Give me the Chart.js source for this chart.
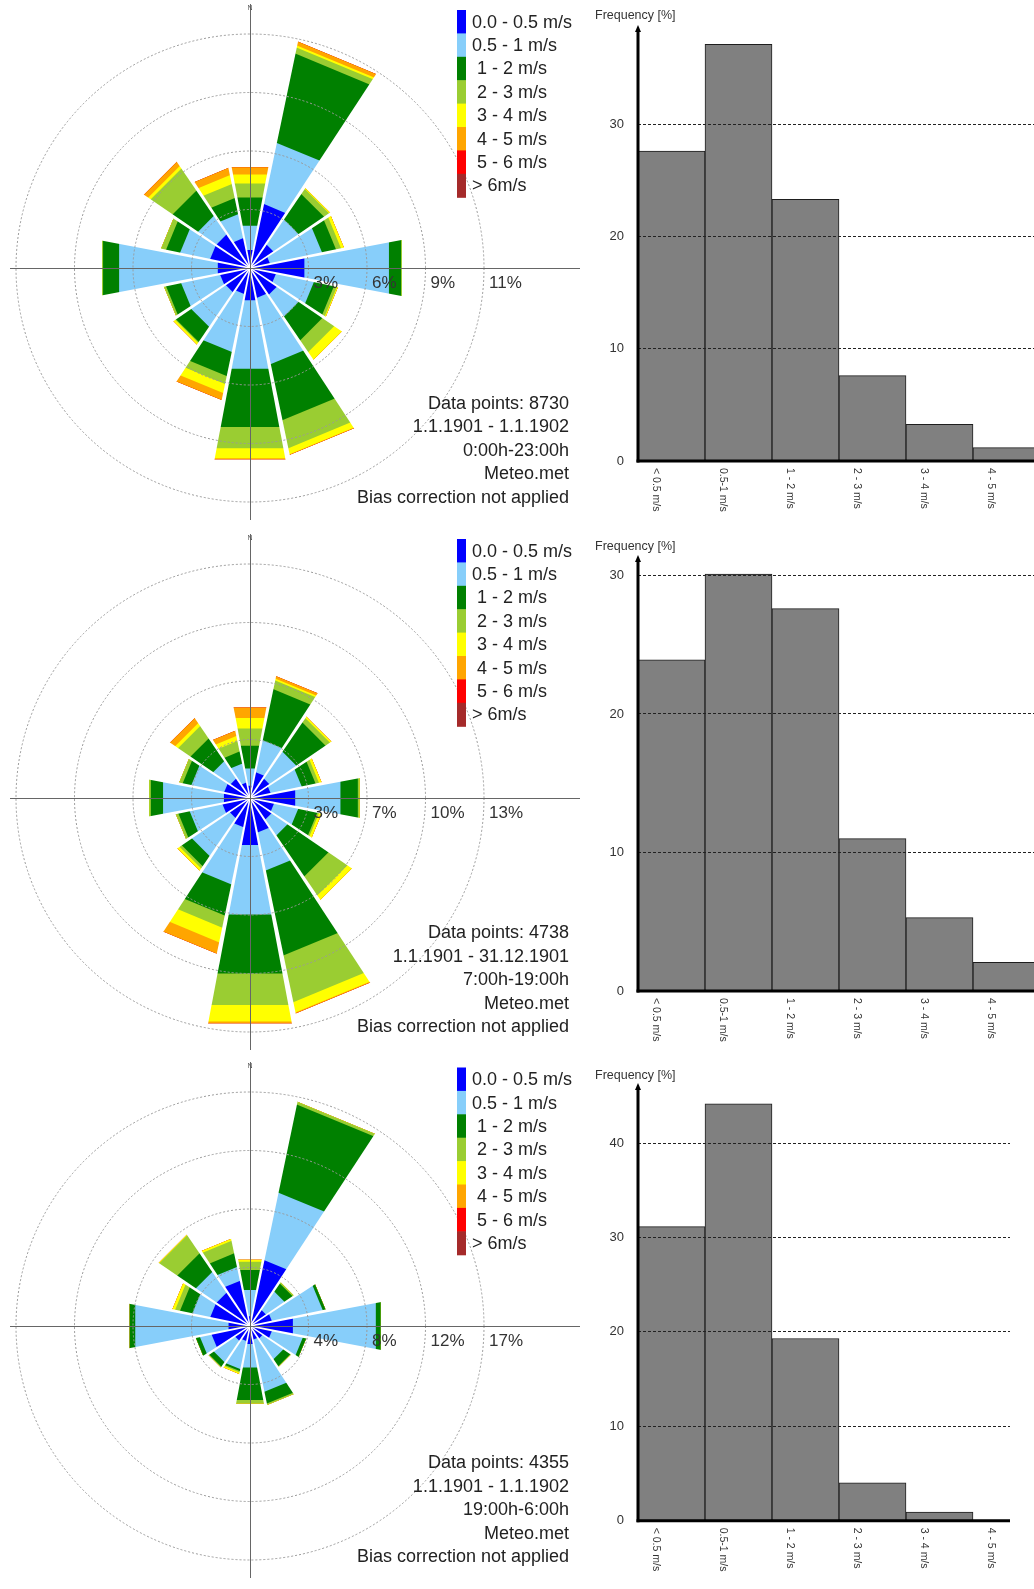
<!DOCTYPE html>
<html>
<head>
<meta charset="utf-8">
<script src="https://cdn.jsdelivr.net/npm/chart.js@4"></script>
<style>
    html, body { margin: 0; padding: 0; background: #fff; }
    body { width: 1034px; height: 1589px; overflow: hidden; position: relative; }
    .box { position: absolute; overflow: hidden; }
    canvas { display: block; }
</style>
</head>
<body>
<div class="box" style="left:0;top:0;width:590px;height:527px"><canvas id="rose1" width="590" height="527"></canvas></div>
<div class="box" style="left:0;top:527px;width:590px;height:527px"><canvas id="rose2" width="590" height="527"></canvas></div>
<div class="box" style="left:0;top:1054px;width:590px;height:535px"><canvas id="rose3" width="590" height="535"></canvas></div>
<div class="box" style="left:580px;top:0;width:454px;height:527px"><canvas id="hist1" width="600" height="527"></canvas></div>
<div class="box" style="left:580px;top:527px;width:454px;height:527px"><canvas id="hist2" width="600" height="527"></canvas></div>
<div class="box" style="left:580px;top:1054px;width:430px;height:535px"><canvas id="hist3" width="600" height="535"></canvas></div>

<script>
// wind direction sectors, clockwise from north
const directions = ['N', 'NNE', 'NE', 'ENE', 'E', 'ESE', 'SE', 'SSE', 'S', 'SSW', 'SW', 'WSW', 'W', 'WNW', 'NW', 'NNW'];

// speed classes (legend text) and their colours
const speedClasses = ['0.0 - 0.5 m/s', '0.5 - 1 m/s', ' 1 - 2 m/s', ' 2 - 3 m/s', ' 3 - 4 m/s', ' 4 - 5 m/s', ' 5 - 6 m/s', '> 6m/s'];
const classColors = ['#0000ff', '#87cefa', '#008000', '#9acd32', '#ffff00', '#ffa500', '#ff0000', '#a52a2a'];

// frequency [%] - one row per direction, one column per speed class
const roseAll = [
    [0.9, 1.2, 1.4, 0.7, 0.45, 0.35, 0, 0],
    [3.2, 3.05, 4.45, 0.3, 0.1, 0.2, 0, 0],
    [1.4, 1.5, 1.5, 0.3, 0.05, 0, 0, 0],
    [1.0, 2.6, 0.7, 0.25, 0.15, 0, 0, 0],
    [2.7, 4.2, 0.6, 0.05, 0, 0, 0, 0],
    [1.3, 1.9, 1.0, 0.15, 0.05, 0, 0, 0],
    [1.6, 1.3, 1.4, 0.7, 0.45, 0, 0, 0],
    [1.5, 3.3, 2.8, 1.4, 0.3, 0.03, 0, 0],
    [1.6, 3.4, 2.9, 1.05, 0.5, 0.05, 0, 0],
    [1.3, 2.9, 1.2, 0.4, 0.45, 0.35, 0, 0],
    [1.45, 2.05, 0.9, 0.05, 0.1, 0, 0, 0],
    [1.5, 1.95, 0.75, 0.1, 0, 0, 0, 0],
    [1.6, 4.9, 0.8, 0.05, 0, 0, 0, 0],
    [2.0, 1.5, 0.7, 0.25, 0, 0, 0, 0],
    [2.0, 1.1, 1.5, 1.3, 0.15, 0.25, 0, 0],
    [1.5, 1.2, 0.8, 0.7, 0.45, 0.35, 0, 0]
];
const roseDay = [
    [0.7, 1.0, 1.3, 1.0, 0.6, 0.6, 0, 0],
    [1.5, 1.85, 2.95, 0.5, 0.1, 0.15, 0, 0],
    [1.35, 1.85, 2.0, 0.3, 0.1, 0, 0, 0],
    [1.2, 1.8, 0.8, 0.2, 0.15, 0, 0, 0],
    [2.6, 2.6, 1.0, 0.1, 0, 0, 0, 0],
    [1.4, 1.4, 1.1, 0.1, 0.15, 0, 0, 0],
    [1.5, 1.1, 2.8, 1.3, 0.3, 0, 0, 0],
    [2.0, 2.2, 4.9, 2.7, 0.6, 0.05, 0, 0],
    [2.7, 4.0, 3.4, 1.8, 0.95, 0.1, 0, 0],
    [1.7, 3.3, 1.8, 0.7, 0.85, 0.65, 0, 0],
    [1.4, 2.6, 0.7, 0.15, 0.15, 0, 0, 0],
    [1.6, 1.9, 0.65, 0.15, 0, 0, 0, 0],
    [1.5, 3.5, 0.7, 0.1, 0, 0, 0, 0],
    [1.5, 1.9, 0.5, 0.2, 0, 0, 0, 0],
    [1.35, 1.2, 1.55, 0.85, 0.2, 0.35, 0, 0],
    [0.9, 1.1, 0.7, 0.6, 0.3, 0.3, 0, 0]
];
const roseNight = [
    [0.7, 1.9, 1.45, 0.6, 0.15, 0, 0, 0],
    [4.8, 4.9, 6.4, 0.2, 0, 0, 0, 0],
    [1.4, 1.6, 0.7, 0.1, 0, 0, 0, 0],
    [1.6, 3.7, 0.2, 0, 0, 0, 0, 0],
    [3.1, 6.0, 0.35, 0, 0, 0, 0, 0],
    [1.6, 2.25, 0.25, 0, 0, 0, 0, 0],
    [1.1, 1.8, 0.6, 0.05, 0, 0, 0, 0],
    [1.0, 3.8, 0.85, 0.1, 0, 0, 0, 0],
    [1.3, 1.7, 2.35, 0.25, 0, 0, 0, 0],
    [1.1, 2.05, 0.15, 0.1, 0.1, 0, 0, 0],
    [1.3, 1.85, 0.4, 0.05, 0, 0, 0, 0],
    [2.8, 0.85, 0.3, 0, 0, 0, 0, 0],
    [1.55, 6.75, 0.4, 0, 0, 0, 0, 0],
    [2.9, 1.3, 0.9, 0.35, 0.2, 0, 0, 0],
    [2.9, 1.8, 1.6, 1.55, 0.05, 0, 0, 0],
    [3.3, 1.0, 1.0, 0.9, 0.15, 0, 0, 0]
];

// outer ring value [%] of each rose and the ring labels
const roseMax = [11.4, 13.2, 16.6];
const ringsAll = ['3%', '6%', '9%', '11%'];
const ringsDay = ['3%', '7%', '10%', '13%'];
const ringsNight = ['4%', '8%', '12%', '17%'];

// info text under each rose
const infoAll = ['Data points: 8730', '1.1.1901 - 1.1.1902', '0:00h-23:00h', 'Meteo.met', 'Bias correction not applied'];
const infoDay = ['Data points: 4738', '1.1.1901 - 31.12.1901', '7:00h-19:00h', 'Meteo.met', 'Bias correction not applied'];
const infoNight = ['Data points: 4355', '1.1.1901 - 1.1.1902', '19:00h-6:00h', 'Meteo.met', 'Bias correction not applied'];

// speed histograms, frequency [%]
const histTitle = 'Frequency [%]';
const histLabels = ['< 0.5 m/s', '0.5-1 m/s', '1 - 2 m/s', '2 - 3 m/s', '3 - 4 m/s', '4 - 5 m/s', '5 - 6 m/s', '> 6 m/s'];
const histAll = [27.6, 37.1, 23.3, 7.6, 3.26, 1.19, 0, 0];
const histDay = [23.9, 30.1, 27.6, 11.0, 5.3, 2.07, 0, 0];
const histNight = [31.15, 44.15, 19.3, 4.0, 0.9, 0, 0, 0];

const FONT = '"Liberation Sans", Arial, sans-serif';
Chart.defaults.font.family = FONT;

const ROSE_R = 234;   // radius of the outer ring in px
const ROSE_X = 250;   // x of the rose centre

// ── wind rose ──
function makeRose(id, rows, maxPct, ringLabels, info, centerY, legendTop, infoTop) {
    const canvas = document.getElementById(id);
    const W = canvas.width, H = canvas.height;

    // running sums, so every class is an outer band of its sector
    const cum = rows.map(r => { let s = 0; return r.map(v => (s += v)); });
    const totals = cum.map(c => c[c.length - 1]);

    const datasets = speedClasses.map((name, k) => ({
        label: name,
        data: cum.map(c => +c[k].toFixed(3)),
        backgroundColor: classColors[k],
        borderWidth: 0
    }));

    const roseExtras = {
        id: 'roseExtras',
        // white gaps between the sectors
        afterDatasetsDraw(chart) {
            const sc = chart.scales.r;
            const ctx = chart.ctx;
            const cx = sc.xCenter, cy = sc.yCenter;
            ctx.save();
            ctx.fillStyle = '#fff';
            for (let k = 0; k < 16; k++) {
                const a = (11.25 + 22.5 * k - 90) * Math.PI / 180;
                const R = sc.getDistanceFromCenterForValue(Math.max(totals[k], totals[(k + 1) % 16])) + 3;
                const h0 = 0.7, h1 = 0.7 + R * 0.0095;
                const c = Math.cos(a), s = Math.sin(a);
                ctx.beginPath();
                ctx.moveTo(cx - h0 * s, cy + h0 * c);
                ctx.lineTo(cx + R * c - h1 * s, cy + R * s + h1 * c);
                ctx.lineTo(cx + R * c + h1 * s, cy + R * s - h1 * c);
                ctx.lineTo(cx + h0 * s, cy - h0 * c);
                ctx.closePath();
                ctx.fill();
            }
            ctx.restore();
        },
        afterDraw(chart) {
            const sc = chart.scales.r;
            const ctx = chart.ctx;
            const cx = sc.xCenter, cy = sc.yCenter;
            ctx.save();

            // cross axes
            ctx.strokeStyle = '#666';
            ctx.lineWidth = 1;
            ctx.beginPath();
            ctx.moveTo(10, cy + 0.5);
            ctx.lineTo(580, cy + 0.5);
            ctx.moveTo(cx + 0.5, cy - 264);
            ctx.lineTo(cx + 0.5, cy + 252);
            ctx.stroke();

            ctx.fillStyle = '#555';
            ctx.font = '7px ' + FONT;
            ctx.textAlign = 'center';
            ctx.textBaseline = 'middle';
            ctx.fillText('N', cx, cy - 260);

            // ring labels along the east axis
            ctx.fillStyle = '#333';
            ctx.font = '17px ' + FONT;
            ctx.textAlign = 'left';
            ctx.textBaseline = 'alphabetic';
            ringLabels.forEach((lab, i) => {
                const r = sc.getDistanceFromCenterForValue(maxPct * (i + 1) / 4);
                ctx.fillText(lab, cx + r + 5, cy + 20);
            });

            // legend
            ctx.font = '18px ' + FONT;
            ctx.textBaseline = 'middle';
            const rowH = 23.4;
            speedClasses.forEach((name, k) => {
                ctx.fillStyle = classColors[k];
                ctx.fillRect(457, legendTop + rowH * k, 9, rowH + 0.6);
                ctx.fillStyle = '#222';
                ctx.fillText(name, 472, legendTop + rowH * k + rowH / 2 + 1);
            });

            // info text
            ctx.textAlign = 'right';
            info.forEach((line, i) => {
                ctx.fillText(line, 569, infoTop + 23.5 * i);
            });
            ctx.restore();
        }
    };

    new Chart(canvas, {
        type: 'polarArea',
        data: { labels: directions, datasets: datasets },
        options: {
            responsive: false,
            animation: false,
            layout: {
                padding: {
                    left: ROSE_X - ROSE_R,
                    top: centerY - ROSE_R,
                    right: W - ROSE_X - ROSE_R,
                    bottom: H - centerY - ROSE_R
                }
            },
            plugins: { legend: { display: false }, tooltip: { enabled: false } },
            elements: { arc: { circular: false, borderWidth: 0 } },
            scales: {
                r: {
                    min: 0,
                    max: maxPct,
                    startAngle: -11.25,
                    ticks: { display: false },
                    afterBuildTicks: s => { s.ticks = [0, 1, 2, 3, 4].map(i => ({ value: maxPct * i / 4 })); },
                    grid: { circular: true, color: '#9a9a9a', lineWidth: 1, z: 1, borderDash: [2, 2] },
                    border: { dash: [2, 2] },
                    angleLines: { display: false },
                    pointLabels: { display: false }
                }
            }
        },
        plugins: [roseExtras]
    });
}

// ── speed histogram ──
function histExtras(titleY) {
    return {
        id: 'histExtras',
        afterDraw(chart) {
            const ctx = chart.ctx;
            const ca = chart.chartArea;
            const xs = chart.scales.x;
            ctx.save();

            // axes with arrow
            ctx.strokeStyle = '#000';
            ctx.fillStyle = '#000';
            ctx.lineWidth = 3;
            ctx.beginPath();
            ctx.moveTo(ca.left, ca.top + 2);
            ctx.lineTo(ca.left, ca.bottom + 1.5);
            ctx.stroke();
            ctx.beginPath();
            ctx.moveTo(ca.left - 1.5, ca.bottom);
            ctx.lineTo(chart.width, ca.bottom);
            ctx.stroke();
            ctx.beginPath();
            ctx.moveTo(ca.left, ca.top - 3);
            ctx.lineTo(ca.left - 3, ca.top + 4);
            ctx.lineTo(ca.left + 3, ca.top + 4);
            ctx.closePath();
            ctx.fill();

            // title
            ctx.fillStyle = '#333';
            ctx.font = '12.5px ' + FONT;
            ctx.textAlign = 'left';
            ctx.textBaseline = 'middle';
            ctx.fillText(histTitle, 15, titleY);

            // rotated class labels
            ctx.font = '10.5px ' + FONT;
            histLabels.forEach((lab, i) => {
                ctx.save();
                ctx.translate(xs.getPixelForValue(i) - 15.5, ca.bottom + 7);
                ctx.rotate(Math.PI / 2);
                ctx.fillText(lab, 0, 0);
                ctx.restore();
            });
            ctx.restore();
        }
    };
}

function makeHist(id, values, yMax, areaTop, areaBottom, titleY) {
    const canvas = document.getElementById(id);
    const H = canvas.height;
    new Chart(canvas, {
        type: 'bar',
        data: {
            labels: histLabels,
            datasets: [{
                data: values,
                backgroundColor: '#808080',
                borderColor: '#1e1e1e',
                borderWidth: 1,
                categoryPercentage: 1,
                barPercentage: 1
            }]
        },
        options: {
            responsive: false,
            animation: false,
            layout: { padding: { left: 0, top: areaTop, right: 6, bottom: H - areaBottom } },
            plugins: { legend: { display: false }, tooltip: { enabled: false } },
            scales: {
                x: { display: false },
                y: {
                    min: 0,
                    max: yMax,
                    afterFit: s => { s.width = 58; },
                    ticks: { stepSize: 10, includeBounds: false, padding: 14, color: '#333', font: { size: 13 } },
                    grid: {
                        drawTicks: false,
                        z: 1,
                        lineWidth: 1,
                        color: c => (c.tick && c.tick.value === 0) ? 'rgba(0,0,0,0)' : '#222'
                    },
                    border: { display: false, dash: [3, 2] }
                }
            }
        },
        plugins: [histExtras(titleY)]
    });
}

document.addEventListener('DOMContentLoaded', function() {
    makeRose('rose1', roseAll, roseMax[0], ringsAll, infoAll, 268, 10, 404);
    makeRose('rose2', roseDay, roseMax[1], ringsDay, infoDay, 271, 12, 406.5);
    makeRose('rose3', roseNight, roseMax[2], ringsNight, infoNight, 272, 13.5, 409.5);

    makeHist('hist1', histAll, 38.56, 28, 461, 16);
    makeHist('hist2', histDay, 31.26, 31, 464, 19.5);
    makeHist('hist3', histNight, 46.05, 32, 466.7, 21.5);
});
</script>
</body>
</html>
